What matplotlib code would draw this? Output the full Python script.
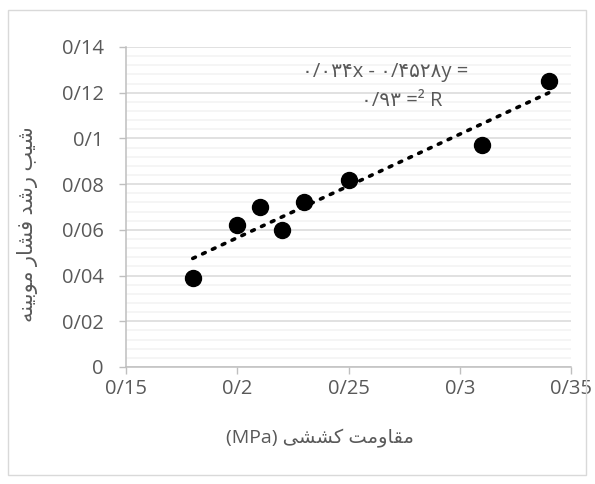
import matplotlib
matplotlib.use("Agg")
import matplotlib.pyplot as plt
from matplotlib.patches import Rectangle
from matplotlib.ticker import MultipleLocator, FixedLocator
import numpy as np

# data
x_vals = [0.18, 0.20, 0.21, 0.22, 0.23, 0.25, 0.31, 0.34]
y_vals = [0.039, 0.062, 0.070, 0.060, 0.072, 0.082, 0.097, 0.125]
slope = 0.4528
intercept = -0.034
x_ticks = [0.15, 0.20, 0.25, 0.30, 0.35]
x_tick_labels = ["0/15", "0/2", "0/25", "0/3", "0/35"]
y_ticks = [0, 0.02, 0.04, 0.06, 0.08, 0.10, 0.12, 0.14]
y_tick_labels = ["0", "0/02", "0/04", "0/06", "0/08", "0/1", "0/12", "0/14"]

# Persian text in visual (left-to-right) order with presentation forms
def vis(*cps):
    return "".join(chr(c) for c in cps)

x_label = "(MPa) " + vis(0xFBFD, 0xFEB8, 0xFEB8, 0xFB90) + " " + \
          vis(0xFE96, 0xFEE3, 0xFEED, 0xFE8E, 0xFED8, 0xFEE3)
y_label = vis(0xFEEA, 0xFEE8, 0xFBFF, 0xFE91, 0xFEEE, 0xFEE3) + " " + \
          vis(0xFEAD, 0xFE8E, 0xFEB8, 0xFED3) + " " + \
          vis(0xFEAA, 0xFEB7, 0xFEAD) + " " + \
          vis(0xFE90, 0xFBFF, 0xFEB7)
eq_line1 = "\u06f0/\u06f0\u06f3\u06f4x - \u06f0/\u06f4\u06f5\u06f2\u06f8y ="
eq_line2 = "\u06f0/\u06f9\u06f3 =\u00b2 R"

FAM = ["Open Sans", "DejaVu Sans"]
TXT = "#595959"
TICK_FS = 14.5

fig = plt.figure(figsize=(5.95, 4.84), dpi=100)
fig.patches.append(Rectangle((8 / 595, 1 - 475 / 484), 578 / 595, 465 / 484,
                             transform=fig.transFigure, fill=False,
                             edgecolor="#d9d9d9", linewidth=1))

ax = fig.add_axes([126 / 595, 1 - 367 / 484, 445 / 595, 320 / 484])
ax.set_xlim(0.15, 0.35)
ax.set_ylim(0, 0.14)

ax.xaxis.set_major_locator(FixedLocator(x_ticks))
ax.yaxis.set_major_locator(FixedLocator(y_ticks))
ax.yaxis.set_minor_locator(MultipleLocator(0.004))
ax.set_xticklabels(x_tick_labels, family=FAM, fontsize=TICK_FS, color=TXT)
ax.set_yticklabels(y_tick_labels, family=FAM, fontsize=TICK_FS, color=TXT)

ax.grid(which="major", axis="y", color="#d9d9d9", linewidth=1.1, zorder=0)
ax.grid(which="minor", axis="y", color="#f2f2f2", linewidth=1.1, zorder=0)
ax.tick_params(which="minor", left=False)
ax.tick_params(which="major", direction="out", length=5, width=1,
               color="#bfbfbf")
ax.tick_params(axis="y", which="major", pad=11)
ax.tick_params(axis="x", which="major", pad=4)
for s in ["top", "right"]:
    ax.spines[s].set_visible(False)
for s in ["left", "bottom"]:
    ax.spines[s].set_color("#bfbfbf")
    ax.spines[s].set_linewidth(1.1)
ax.set_axisbelow(True)

xs = np.array([min(x_vals), max(x_vals)])
ax.plot(xs, slope * xs + intercept, color="black", linestyle=(0, (0.8, 2.2)),
        linewidth=2.6, dash_capstyle="round", zorder=3)
ax.plot(x_vals, y_vals, "o", color="black", markersize=11.5, zorder=4)

fig.text(385 / 595, 1 - 72 / 484, eq_line1, family=FAM, fontsize=14.5,
         color=TXT, ha="center", va="center")
fig.text(402 / 595, 1 - 101 / 484, eq_line2, family=FAM, fontsize=14.5,
         color=TXT, ha="center", va="center")

fig.text(320 / 595, 1 - 438 / 484, x_label, family=FAM, fontsize=14,
         color=TXT, ha="center", va="center")
fig.text(28 / 595, 1 - 224 / 484, y_label, family=FAM, fontsize=15,
         color=TXT, ha="center", va="center", rotation=90)

fig.savefig("out.png", dpi=100, facecolor="white")
